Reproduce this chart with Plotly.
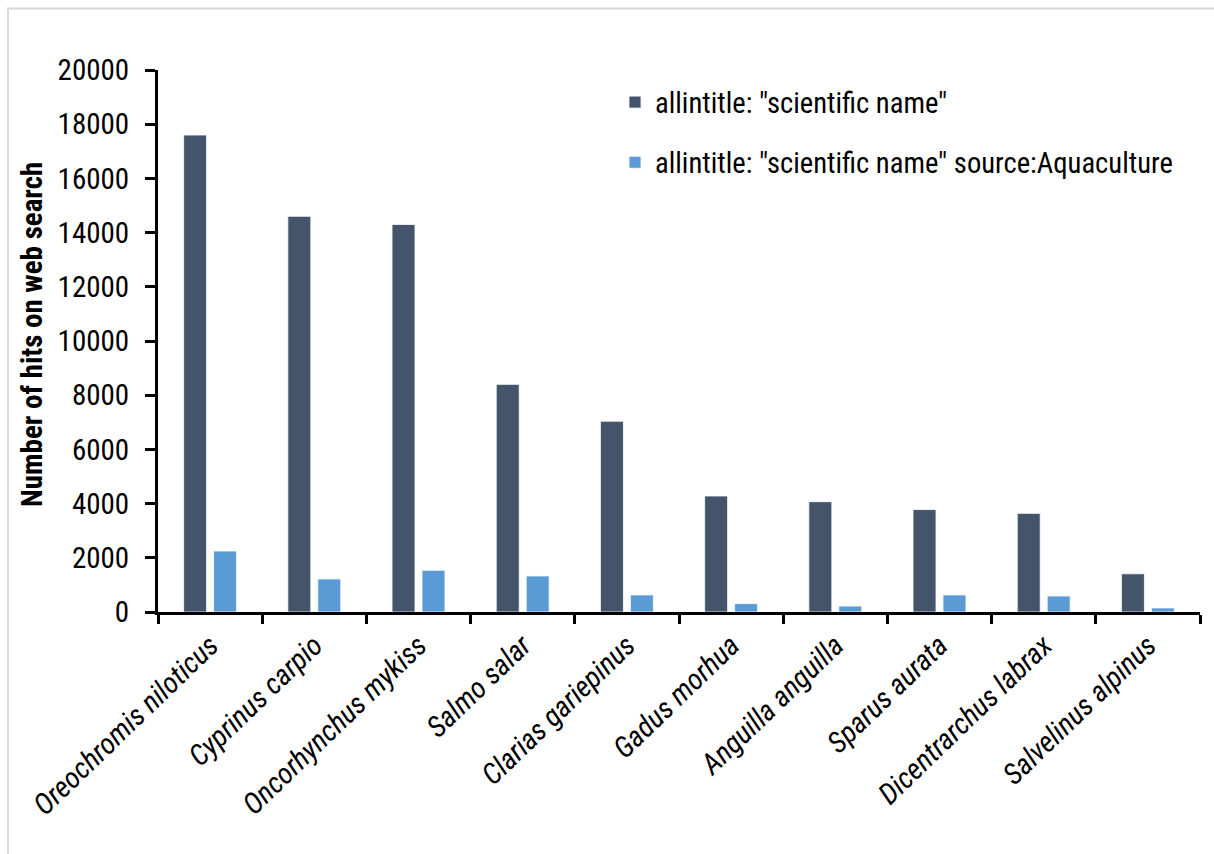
import plotly.graph_objects as go

species = [
    "Oreochromis niloticus", "Cyprinus carpio", "Oncorhynchus mykiss",
    "Salmo salar", "Clarias gariepinus", "Gadus morhua", "Anguilla anguilla",
    "Sparus aurata", "Dicentrarchus labrax", "Salvelinus alpinus",
]
hits_all = [17600, 14600, 14300, 8400, 7040, 4280, 4070, 3780, 3640, 1410]
hits_aqua = [2250, 1220, 1540, 1330, 630, 310, 220, 630, 590, 150]
y_ticks = [0, 2000, 4000, 6000, 8000, 10000, 12000, 14000, 16000, 18000, 20000]

FONT = "Roboto Condensed, Liberation Sans Narrow, Roboto, sans-serif"
FS = 29
W, H = 1214, 854
ML, MR, MT, MB = 158, 14, 70, 242
PW, PH = W - ML - MR, H - MT - MB


def px_x(p):
    return (p - ML) / PW


def px_y(p):
    return (H - MB - p) / PH


fig = go.Figure()
fig.add_trace(go.Bar(
    x=species, y=hits_all, name='allintitle: "scientific name"',
    marker=dict(color="#44546A", line=dict(color="#ffffff", width=0.8)),
    legendgroup="a",
))
fig.add_trace(go.Bar(
    x=species, y=hits_aqua, name='allintitle: "scientific name" source:Aquaculture',
    marker=dict(color="#5B9BD5", line=dict(color="#ffffff", width=0.8)),
    legendgroup="b",
))

fig.update_layout(
    width=W, height=H,
    margin=dict(l=ML, r=MR, t=MT, b=MB, autoexpand=False),
    paper_bgcolor="white", plot_bgcolor="white",
    font=dict(family=FONT, size=FS, color="#000000"),
    barmode="group", bargap=0.425, bargroupgap=0.233,
    showlegend=True,
    legend=dict(
        x=px_x(615), y=px_y(77), xanchor="left", yanchor="top",
        bgcolor="rgba(0,0,0,0)", font=dict(family=FONT, size=28.6),
        traceorder="grouped", tracegroupgap=20,
    ),
    xaxis=dict(
        type="category", tickvals=species,
        ticktext=[f"<i>{s}</i>" for s in species],
        tickangle=-44, showline=True, linecolor="#000000", linewidth=3,
        ticks="outside", tickson="boundaries", ticklen=9, tickwidth=3,
        tickcolor="#000000", showgrid=False, zeroline=False,
        ticklabelstandoff=2,
        tickfont=dict(family=FONT, size=FS),
    ),
    yaxis=dict(
        range=[0, 20000], tickvals=y_ticks, tickformat="d",
        showline=True, linecolor="#000000",
        linewidth=3, ticks="outside", ticklen=10, tickwidth=3, tickcolor="#000000",
        showgrid=False, zeroline=False, ticklabelstandoff=10,
        tickfont=dict(family=FONT, size=FS),
    ),
    annotations=[dict(
        text="<b>Number of hits on web search</b>", textangle=-90,
        xref="paper", yref="paper", x=px_x(32), y=px_y(335),
        xanchor="center", yanchor="middle", showarrow=False,
        font=dict(family=FONT, size=FS, color="#000000"),
    )],
    shapes=[dict(
        type="rect", xref="paper", yref="paper",
        x0=px_x(8), y0=px_y(8.5), x1=px_x(W + 20), y1=px_y(H + 20),
        line=dict(color="#d9d9d9", width=2), layer="below",
    )],
)

fig.write_html("out.html")
